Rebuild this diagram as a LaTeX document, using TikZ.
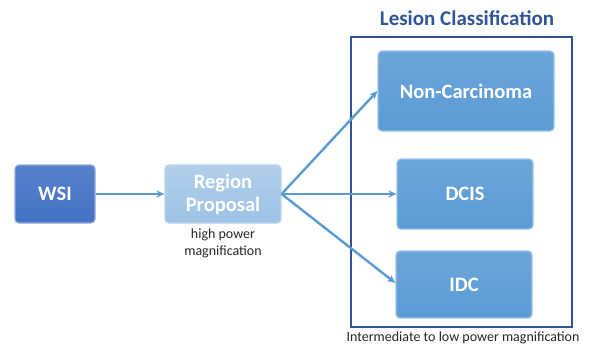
\documentclass[tikz,border=0pt]{standalone}
\usepackage{fontspec}
\setmainfont{Carlito}
\usepackage{xcolor}
\usetikzlibrary{arrows.meta, positioning}

\definecolor{wsiblue}{HTML}{4472C4}
\definecolor{lightblue}{HTML}{9DC3E6}
\definecolor{midblue}{HTML}{5B9BD5}
\definecolor{darkblue}{HTML}{2F5597}

\begin{document}
\begin{tikzpicture}[
  x=1pt, y=-1pt,
  box/.style={rectangle, rounded corners=4pt, draw=midblue!60!white, line width=1.2pt,
              top color=midblue!90!white, bottom color=midblue,
              font=\bfseries\fontsize{20.5}{23}\selectfont, text=white,
              align=center, inner sep=0pt},
  inbox/.style={box, top color=wsiblue!90!white, bottom color=wsiblue, draw=wsiblue!60!white},
  propbox/.style={box, top color=lightblue!80!white, bottom color=lightblue, draw=lightblue!70!white},
  note/.style={font=\fontsize{14}{17}\selectfont, text=black!85, align=center},
  arr/.style={-{Stealth[length=8pt,width=7pt]}, line width=2.4pt, midblue},
]

\useasboundingbox (0,0) rectangle (593,346);

% outer frame and its title
\draw[darkblue, line width=2.6pt] (351,37) rectangle (572,327);
\node[font=\bfseries\fontsize{21}{24}\selectfont, text=darkblue] (title) at (467,18) {Lesion Classification};

% input and proposal
\node[inbox, minimum width=80pt, minimum height=58pt] (wsi) at (55,194) {WSI};
\node[propbox, minimum width=116pt, minimum height=58pt] (prop) at (223,194) {Region\\Proposal};
\node[note, below=2pt of prop] (high) {high power\\magnification};

% classes
\node[box, minimum width=176pt, minimum height=80pt] (noncarc) at (466,91) {Non-Carcinoma};
\node[box, minimum width=136pt, minimum height=70pt] (dcis) at (465,194) {DCIS};
\node[box, minimum width=136pt, minimum height=67pt] (idc) at (464,284.5) {IDC};
\node[note] (low) at (463,338) {Intermediate to low power magnification};

\draw[arr] (wsi.east) -- (prop.west);
\draw[arr] (prop.east) -- (noncarc.west);
\draw[arr] (prop.east) -- (dcis.west);
\draw[arr] (prop.east) -- (idc.west |- 0,283);

\end{tikzpicture}
\end{document}
